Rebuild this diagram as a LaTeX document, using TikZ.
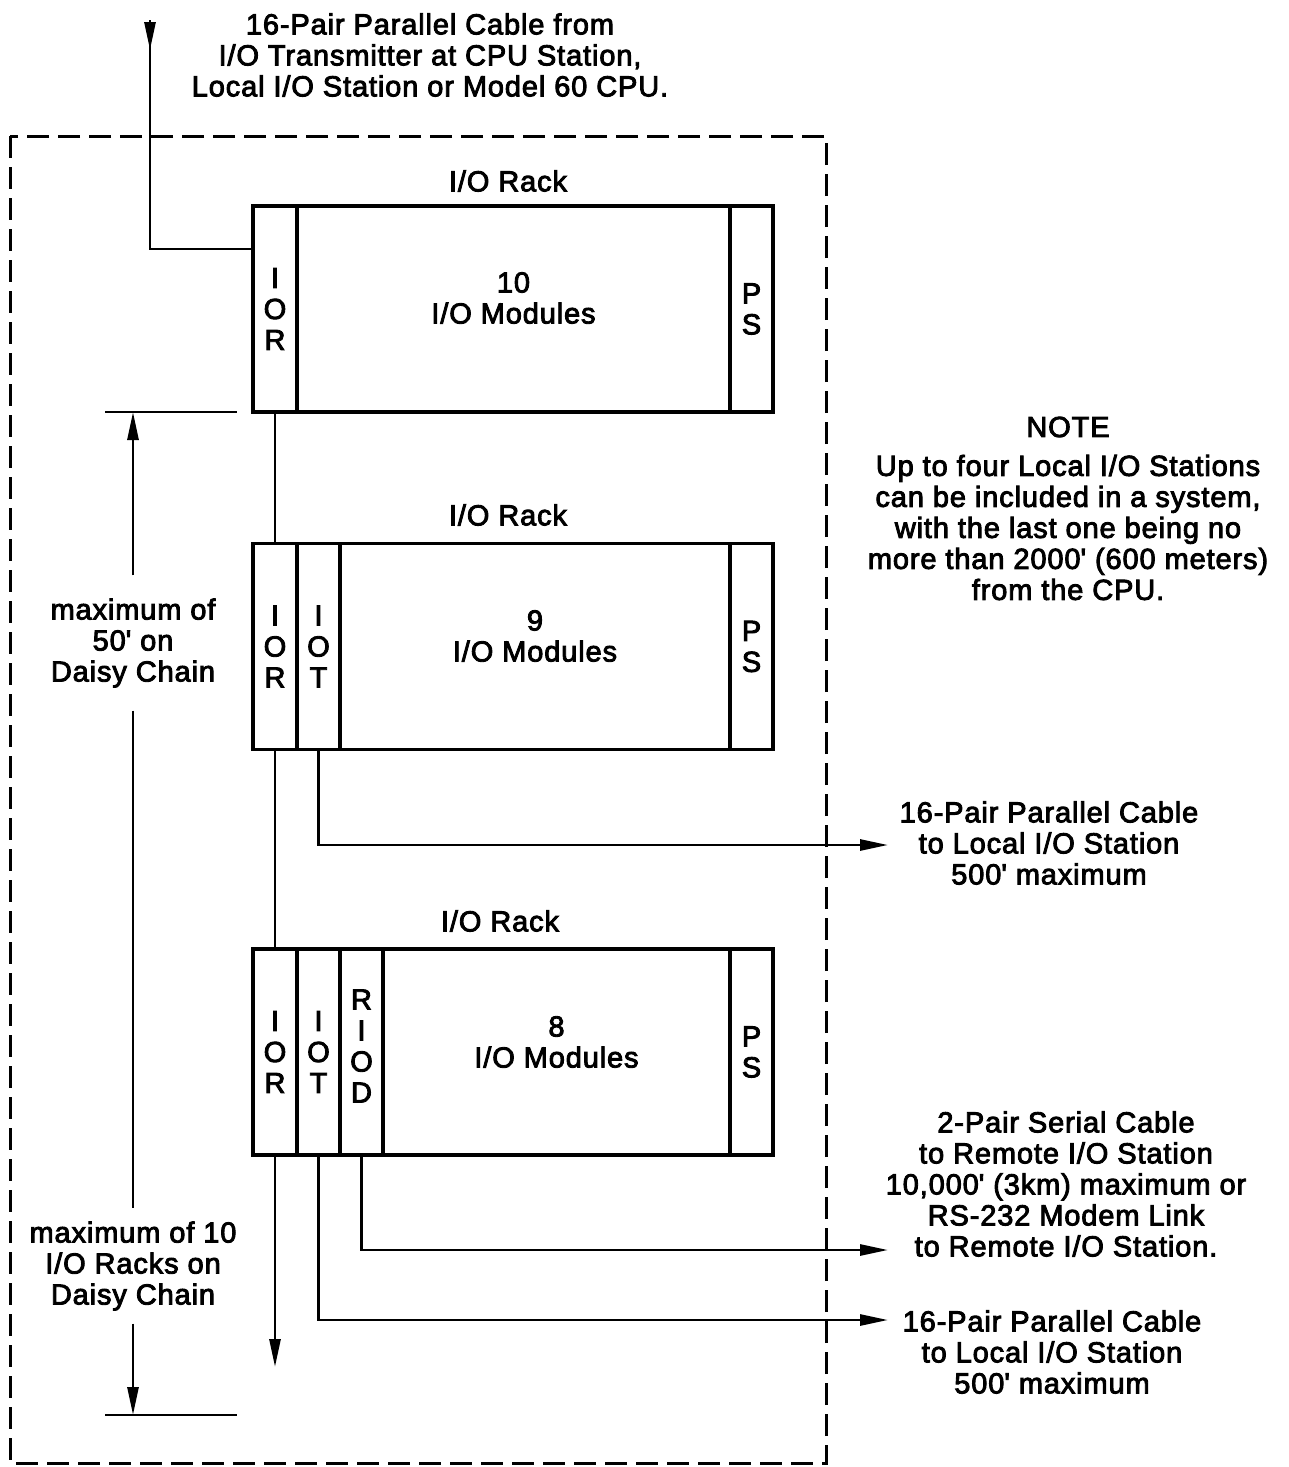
\documentclass[tikz,border=0pt]{standalone}
\usepackage{fontspec}
\setmainfont{Liberation Sans}[FakeBold=3, LetterSpace=3]
\usetikzlibrary{arrows.meta}
\newcommand{\apos}{\textquotesingle}
\begin{document}
\begin{tikzpicture}[x=1pt,y=-1pt,
  lbl/.style={font=\fontsize{29}{31}\selectfont, align=center, inner sep=0pt},
  col/.style={draw, line width=3.4pt, inner sep=0pt, outer sep=0pt, minimum height=206pt,
              align=center, font=\fontsize{29}{31}\selectfont},
  wire/.style={line width=2.8pt},
  frame/.style={line width=3pt, dash pattern=on 22pt off 9pt},
  arr/.style={-{Triangle[length=28pt,width=11pt]}}]
\useasboundingbox (0,0) rectangle (1288,1467);

% dashed enclosure
\draw[frame] (10,136) rectangle (826,1463);

% top label
\node[lbl] (toptxt) at (430,55) {16-Pair Parallel Cable from\\I/O Transmitter at CPU Station,\\Local I/O Station or Model 60 CPU.};

% Rack 1
\node[col, minimum width=44pt] (r1ior) at (275,309) {I\\O\\R};
\node[col, minimum width=433pt] (r1mod) at (513.5,309) {};
\node[col, minimum width=43pt] (r1ps) at (751.5,309) {P\\S};
\node[lbl] (r1txt) at (513.5,298) {10\\I/O Modules};
\node[lbl] (r1lab) at (508,181) {I/O Rack};

% Rack 2
\node[col, minimum width=44pt] (r2ior) at (275,646.5) {I\\O\\R};
\node[col, minimum width=43pt] (r2iot) at (318.5,646.5) {I\\O\\T};
\node[col, minimum width=390pt] (r2mod) at (535,646.5) {};
\node[col, minimum width=43pt] (r2ps) at (751.5,646.5) {P\\S};
\node[lbl] (r2txt) at (535,636) {9\\I/O Modules};
\node[lbl] (r2lab) at (508,515) {I/O Rack};

% Rack 3
\node[col, minimum width=44pt] (r3ior) at (275,1052) {I\\O\\R};
\node[col, minimum width=43pt] (r3iot) at (318.5,1052) {I\\O\\T};
\node[col, minimum width=43pt] (r3riod) at (361.5,1052) {};
\node[col, minimum width=347pt] (r3mod) at (556.5,1052) {};
\node[col, minimum width=43pt] (r3ps) at (751.5,1052) {P\\S};
\node[lbl] (r3riodtxt) at (361.5,1046) {R\\I\\O\\D};
\node[lbl] (r3txt) at (556.5,1042) {8\\I/O Modules};
\node[lbl] (r3lab) at (500,921) {I/O Rack};

% incoming cable
\coordinate (inTop) at (150,20);
\coordinate (inTip) at (150,50);
\coordinate (inBend) at (150,249);
\draw[wire] (inTop) -- (inBend) -- (inBend -| r1ior.west);
\draw[wire,arr] (inTop) -- (inTip);

% daisy chain
\coordinate (chainEnd) at (275,1367);
\draw[wire] (r1ior.south) -- (r2ior.north);
\draw[wire] (r2ior.south) -- (r3ior.north);
\draw[wire,arr] (r3ior.south) -- (chainEnd);

% outgoing cables
\coordinate (t1) at (888,845);
\coordinate (t2) at (888,1250);
\coordinate (t3) at (888,1320);
\draw[wire,arr] (r2iot.south) |- (t1);
\draw[wire,arr] (r3riod.south) |- (t2);
\draw[wire,arr] (r3iot.south) |- (t3);

\node[lbl] (lab1) at (1049,843) {16-Pair Parallel Cable\\to Local I/O Station\\500\apos{} maximum};
\node[lbl] (lab2) at (1066,1184) {2-Pair Serial Cable\\to Remote I/O Station\\10,000\apos{} (3km) maximum or\\RS-232 Modem Link\\to Remote I/O Station.};
\node[lbl] (lab3) at (1052,1352) {16-Pair Parallel Cable\\to Local I/O Station\\500\apos{} maximum};

% note
\node[lbl] (notehead) at (1068,427) {NOTE};
\node[lbl] (notebody) at (1068,527.5) {Up to four Local I/O Stations\\can be included in a system,\\with the last one being no\\more than 2000\apos{} (600 meters)\\from the CPU.};

% dimension
\coordinate (dimTop) at (133,412);
\coordinate (dimBot) at (133,1415);
\coordinate (tickAL) at (105,412);
\coordinate (tickAR) at (237,412);
\coordinate (tickBL) at (105,1415);
\coordinate (tickBR) at (237,1415);
\draw[wire] (tickAL) -- (tickAR);
\draw[wire] (tickBL) -- (tickBR);
\node[lbl, inner ysep=23pt] (dimA) at (133,643) {maximum of\\50\apos{} on\\Daisy Chain};
\node[lbl, inner ysep=13pt] (dimB) at (133,1266) {maximum of 10\\I/O Racks on\\Daisy Chain};
\draw[wire,arr] (dimA.north) -- (dimTop);
\draw[wire] (dimA.south) -- (dimB.north);
\draw[wire,arr] (dimB.south) -- (dimBot);
\end{tikzpicture}
\end{document}
